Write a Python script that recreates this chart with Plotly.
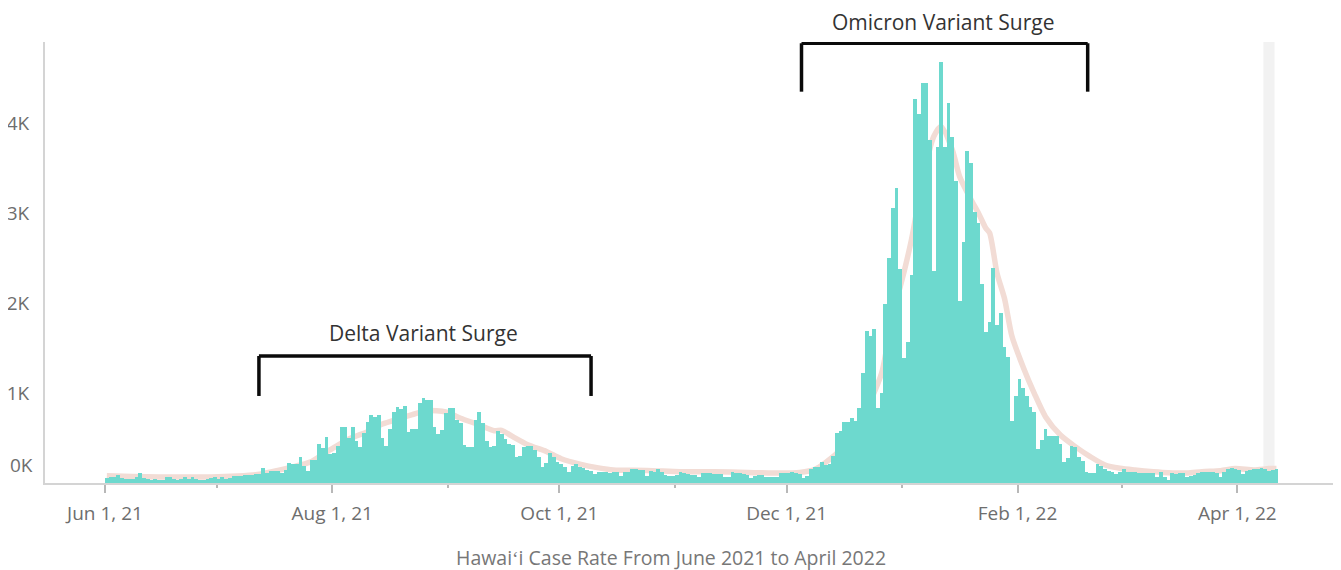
import pandas as pd
import plotly.graph_objects as go

# ---------------- data ----------------
start_date = "2021-06-01"

# daily new cases, Jun 1 2021 -> Apr 11 2022
cases = [
    52, 70, 63, 85, 52, 41, 48, 48, 70, 107,
    59, 41, 33, 44, 37, 33, 67, 67, 41, 30,
    41, 63, 44, 63, 41, 33, 33, 44, 52, 63,
    44, 70, 48, 59, 75, 78, 81, 85, 88, 93,
    96, 100, 165, 110, 128, 137, 128, 110, 144, 225,
    208, 208, 292, 188, 128, 255, 255, 437, 389, 515,
    326, 333, 410, 619, 619, 504, 619, 463, 404, 559,
    681, 756, 737, 756, 496, 415, 596, 785, 848, 819,
    859, 570, 600, 600, 890, 948, 922, 922, 626, 541,
    589, 774, 830, 830, 700, 663, 426, 404, 404, 700,
    785, 663, 463, 404, 411, 578, 541, 489, 430, 422,
    293, 304, 404, 411, 411, 367, 293, 181, 219, 330,
    293, 230, 207, 181, 119, 193, 207, 181, 172, 150,
    135, 100, 117, 119, 119, 115, 126, 126, 80, 126,
    126, 152, 152, 145, 145, 78, 130, 126, 152, 126,
    90, 80, 80, 85, 126, 107, 95, 89, 89, 70,
    107, 107, 107, 100, 100, 100, 70, 70, 119, 115,
    107, 100, 89, 52, 78, 89, 89, 70, 70, 70,
    70, 107, 110, 110, 120, 110, 96, 55, 78, 152,
    174, 174, 230, 200, 215, 300, 560, 580, 678, 678,
    726, 689, 830, 1226, 1689, 1637, 1711, 830, 996, 1985,
    2496, 3052, 3278, 2374, 1385, 1570, 2311, 4263, 4100, 4441,
    4441, 3811, 2359, 3730, 4674, 3730, 4226, 3848, 3356, 2026,
    2681, 3689, 3559, 3015, 2893, 2207, 1674, 1793, 2393, 1756,
    1893, 1510, 1404, 685, 967, 1154, 1055, 968, 850, 785,
    378, 478, 600, 522, 522, 522, 433, 230, 274, 415,
    400, 293, 248, 126, 115, 115, 211, 189, 156, 137,
    118, 100, 126, 152, 126, 126, 126, 115, 115, 115,
    111, 111, 70, 126, 70, 33, 111, 100, 111, 111,
    70, 80, 90, 111, 118, 126, 126, 126, 111, 70,
    126, 152, 167, 152, 145, 100, 130, 145, 156, 160,
    167, 160, 130, 145, 152,
]

# 7-day average line, read at sample dates
avg_dates = [
    "2021-06-01", "2021-06-08", "2021-06-15", "2021-06-22", "2021-06-29",
    "2021-07-06", "2021-07-11", "2021-07-14", "2021-07-19", "2021-07-23",
    "2021-07-26", "2021-07-31", "2021-08-05", "2021-08-10", "2021-08-14",
    "2021-08-18", "2021-08-22", "2021-08-26", "2021-08-31", "2021-09-04",
    "2021-09-09", "2021-09-13", "2021-09-15", "2021-09-18", "2021-09-22",
    "2021-09-27", "2021-10-01", "2021-10-06", "2021-10-11", "2021-10-15",
    "2021-10-24", "2021-11-02", "2021-11-11", "2021-11-20", "2021-11-29",
    "2021-12-04", "2021-12-08", "2021-12-14", "2021-12-20", "2021-12-26",
    "2021-12-29", "2021-12-31", "2022-01-03", "2022-01-06", "2022-01-09",
    "2022-01-11", "2022-01-14", "2022-01-16", "2022-01-19", "2022-01-21",
    "2022-01-23", "2022-01-24", "2022-01-26", "2022-01-28", "2022-01-30",
    "2022-02-02", "2022-02-05", "2022-02-08", "2022-02-12", "2022-02-16",
    "2022-02-20", "2022-02-24", "2022-02-28", "2022-03-04", "2022-03-09",
    "2022-03-13", "2022-03-18", "2022-03-22", "2022-03-27", "2022-03-31",
    "2022-04-05", "2022-04-09", "2022-04-11",
]
avg_values = [
    80, 72, 68, 66, 68,
    78, 92, 115, 160, 200,
    240, 370, 490, 570, 655,
    710, 760, 805, 790, 720,
    645, 580, 585, 515, 425,
    350, 270, 210, 168, 145,
    140, 126, 124, 118, 110,
    118, 150, 330, 660, 1220,
    1900, 2180, 2700, 3370, 3850,
    3960, 3700, 3400, 3150, 3000,
    2830, 2780, 2330, 2050, 1630,
    1290, 996, 737, 533, 404,
    293, 200, 163, 144, 126,
    115, 111, 126, 137, 160,
    145, 160, 160,
]

y_tick_values = [1000, 2000, 3000, 4000]
y_tick_labels = ["1K", "2K", "3K", "4K"]

# ---------------- figure ----------------
bar_x = pd.date_range(start_date, periods=len(cases), freq="D") + pd.Timedelta(hours=12)
avg_x = pd.to_datetime(avg_dates) + pd.Timedelta(hours=12)

fig = go.Figure()
# average line on the base axis (drawn first, behind the bars)
fig.add_trace(go.Scatter(
    x=avg_x, y=avg_values, mode="lines", yaxis="y",
    line=dict(color="#F2DCD5", width=5.5, shape="spline", smoothing=0.7),
    hoverinfo="skip",
))
# bars on an overlaying axis so they sit above the line
fig.add_trace(go.Bar(
    x=bar_x, y=cases, width=86400000, yaxis="y2",
    marker=dict(color="#6DD9CE", line=dict(width=0)),
))

x_start = pd.Timestamp(start_date) - pd.Timedelta(days=16.1)
x_end = pd.Timestamp(start_date) + pd.Timedelta(days=330.5)
y_range = [0, 4900]

tick_grey = "#6E6E6E"
font_family = "Open Sans"

fig.update_layout(
    width=1333, height=562,
    margin=dict(l=37, r=5, t=34, b=87),
    plot_bgcolor="white", paper_bgcolor="white",
    showlegend=False, bargap=0,
    font=dict(family=font_family, color=tick_grey),
    xaxis=dict(
        type="date", range=[x_start, x_end], automargin=False,
        showline=True, linecolor="#D4D4D4", linewidth=2,
        showgrid=False, zeroline=False,
        ticks="outside", ticklen=8, tickwidth=1.5, tickcolor="#B8B8B8",
        tick0=start_date, dtick="M2", tickformat="%b %-d, %y",
        tickfont=dict(size=19, color=tick_grey, family=font_family),
        ticklabelstandoff=4,
        minor=dict(dtick="M1", ticks="outside", ticklen=3, tickwidth=1.5,
                   tickcolor="#B8B8B8", showgrid=False),
    ),
    yaxis=dict(
        range=y_range, automargin=False,
        showline=True, linecolor="#D4D4D4", linewidth=2,
        showgrid=False, zeroline=False,
        tickvals=y_tick_values, ticktext=y_tick_labels,
        tickfont=dict(size=19, color=tick_grey, family=font_family),
        ticklabelstandoff=10,
    ),
    yaxis2=dict(
        range=y_range, overlaying="y", visible=False, automargin=False,
        showgrid=False, zeroline=False,
    ),
)

# light band marking the latest days
fig.add_shape(type="rect", xref="x", yref="paper",
              x0="2022-04-08", x1="2022-04-11", y0=0, y1=1,
              fillcolor="#F2F2F2", line=dict(width=0), layer="below")

# brackets (label y given in paper units so it can sit above the plot)
brackets = [
    dict(x0="2021-07-12 08:00", x1="2021-10-09 12:00", top=1411, bottom=967,
         label="Delta Variant Surge", lx="2021-08-25 15:00", ly=0.341),
    dict(x0="2021-12-05 00:00", x1="2022-02-19 20:00", top=4886, bottom=4348,
         label="Omicron Variant Surge", lx="2022-01-12 00:00", ly=1.046),
]
for b in brackets:
    style = dict(color="#0A0A0A", width=3.5)
    fig.add_shape(type="line", x0=b["x0"], x1=b["x1"], y0=b["top"], y1=b["top"], line=style)
    fig.add_shape(type="line", x0=b["x0"], x1=b["x0"], y0=b["top"], y1=b["bottom"], line=style)
    fig.add_shape(type="line", x0=b["x1"], x1=b["x1"], y0=b["top"], y1=b["bottom"], line=style)
    fig.add_annotation(x=b["lx"], y=b["ly"], yref="paper", text=b["label"], showarrow=False,
                       xanchor="center", yanchor="middle",
                       font=dict(size=21, color="#333333", family=font_family))

# 0K label sits a little above the baseline
fig.add_annotation(xref="paper", x=0, y=0, text="0K", showarrow=False,
                   xanchor="right", yanchor="middle", xshift=-10, yshift=18,
                   font=dict(size=19, color=tick_grey, family=font_family))

# caption
fig.add_annotation(xref="paper", yref="paper", x=0.485, y=-0.168,
                   text="Hawaiʻi Case Rate From June 2021 to April 2022",
                   showarrow=False, xanchor="center", yanchor="middle",
                   font=dict(size=19.5, color="#777777", family=font_family))

fig.write_html("out.html")
